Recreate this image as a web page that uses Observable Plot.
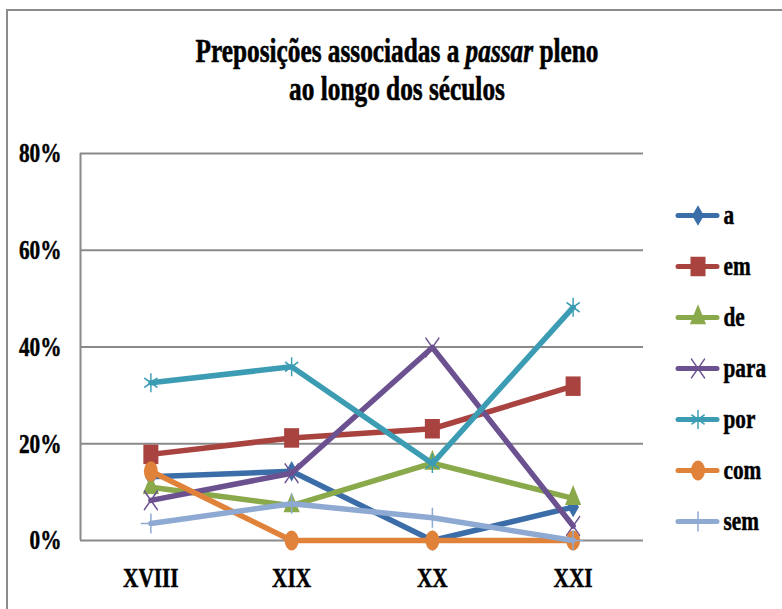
<!DOCTYPE html>
<html><head><meta charset="utf-8">
<script src="https://cdn.jsdelivr.net/npm/d3@7"></script>
<script src="https://cdn.jsdelivr.net/npm/@observablehq/plot@0.6"></script>
<style>
html,body{margin:0;padding:0;background:#fff;}
body{width:782px;height:609px;overflow:hidden;position:relative;font-family:"Liberation Serif","Times New Roman",serif;}
#frame{position:absolute;left:6px;top:9px;width:1000px;height:1000px;border:2px solid #8c8c8c;}
#title{position:absolute;left:0;top:32px;width:794px;text-align:center;font-weight:bold;font-size:34px;line-height:38.4px;white-space:nowrap;color:#000;-webkit-text-stroke:0.6px #000;}
#title div{transform-origin:50% 50%;}
#chart,#legend{position:absolute;top:0;}
#chart{left:0;}
#legend{left:640px;}
svg text{stroke:#000;stroke-width:0.5px;}
</style></head><body>
<div id="frame"></div>
<div id="chart"></div>
<div id="legend"></div>
<div id="title"><div id="t1"><span id="t1s">Preposições associadas a <i>passar</i> pleno</span></div><div id="t2"><span>ao longo dos séculos</span></div></div>
<script>
// ---- data ----
const centuries = ["XVIII", "XIX", "XX", "XXI"];
const series = ["a", "em", "de", "para", "por", "com", "sem"];
const valA    = [13.2, 14.3, 0, 6.9];
const valEm   = [17.8, 21.2, 23.1, 31.9];
const valDe   = [11.0, 7.2, 16.0, 8.7];
const valPara = [8.3, 13.9, 39.9, 3.0];
const valPor  = [32.6, 35.9, 15.9, 48.2];
const valCom  = [14.3, 0, 0, 0];
const valSem  = [3.5, 7.6, 4.7, 0];
const yTicks = [0, 0.2, 0.4, 0.6, 0.8];

// ---- styles ----
const colors = ["#3b6ea8", "#a9433f", "#89a94b", "#6c5190", "#3c9cb4", "#e0823a", "#8eaad2"];
const ellipse = {draw(ctx, size) { const r = Math.sqrt(size / Math.PI); ctx.moveTo(r, 0); ctx.arc(0, 0, r, 0, 2 * Math.PI); ctx.closePath(); }};
const markers = [
  {symbol: "diamond", r: 6.2, sx: 1, filled: true},
  {symbol: "square", r: 11, sx: 0.77, filled: true},
  {symbol: "triangle", r: 8.6, sx: 0.7, filled: true},
  {symbol: "times", r: 9, sx: 0.7, filled: false, sw: 1.8},
  {symbol: "asterisk", r: 9, sx: 0.8, filled: false, sw: 1.8},
  {symbol: ellipse, r: 10, sx: 0.7, filled: true},
  {symbol: "plus", r: 6.5, sx: 1, filled: false, sw: 1.5}
];
const textScale = 0.76;

const allVals = [valA, valEm, valDe, valPara, valPor, valCom, valSem];
const rows = series.flatMap((s, k) => allVals[k].map((v, i) => ({s, k, i, v: v / 100})));
const xDom = [-0.5, centuries.length - 0.5];

// title scaling
const t1w = document.getElementById("t1s").getBoundingClientRect().width;
const ts = 403 / t1w;
document.getElementById("t1").style.transform = `scaleX(${ts})`;
document.getElementById("t2").style.transform = `scaleX(${ts})`;

const seriesMarks = series.flatMap((s, k) => {
  const d = rows.filter(r => r.k === k);
  const m = markers[k];
  return [
    Plot.line(d, {x: "i", y: "v", stroke: colors[k], strokeWidth: 5.5, strokeLinejoin: "round", strokeLinecap: "round"}),
    Plot.dot(d, {x: "i", y: "v", symbol: () => m.symbol, r: m.r,
      fill: m.filled ? colors[k] : "none", stroke: m.filled ? "none" : colors[k], strokeWidth: m.sw || 1})
  ];
});

const chart = Plot.plot({
  width: 782, height: 609,
  marginLeft: 80, marginRight: 139, marginTop: 153, marginBottom: 69,
  style: {fontFamily: "Liberation Serif", fontSize: "28px", fontWeight: "bold", color: "#000", background: "transparent", overflow: "visible"},
  x: {type: "linear", domain: xDom, ticks: 8, tickFormat: i => Number.isInteger(i) && i >= 0 ? centuries[i] : "", tickSize: 0, tickPadding: 27, label: null},
  y: {domain: [0, 0.8], ticks: 4, tickFormat: d3.format(".0%"), tickSize: 0, tickPadding: 19, label: null},
  symbol: {type: "identity"},
  marks: [
    Plot.ruleY(yTicks, {y: d => d, x1: xDom[0], x2: xDom[1], stroke: "#8a8a8a", strokeWidth: 2}),
    Plot.ruleX([xDom[0]], {x: d => d, y1: 0, y2: 0.8, stroke: "#8a8a8a", strokeWidth: 2}),
    ...seriesMarks
  ]
});
document.getElementById("chart").appendChild(chart);

// legend
const legendMarks = series.flatMap((s, k) => {
  const m = markers[k];
  return [
    Plot.ruleY([s], {y: d => d, x1: 0, x2: 1, stroke: colors[k], strokeWidth: 5, strokeLinecap: "round"}),
    Plot.dot([s], {y: d => d, x: 0.5, symbol: () => m.symbol, r: m.r,
      fill: m.filled ? colors[k] : "none", stroke: m.filled ? "none" : colors[k], strokeWidth: m.sw || 1}),
    Plot.text([s], {y: d => d, x: 1, text: d => d, dx: 6, textAnchor: "start", fill: "#000"})
  ];
});
const legend = Plot.plot({
  width: 142, height: 609,
  style: {fontFamily: "Liberation Serif", fontSize: "28px", fontWeight: "bold", color: "#000", background: "transparent", overflow: "visible"},
  x: {domain: [0, 1], range: [38, 717 - 640], axis: null},
  y: {type: "point", domain: series, range: [214, 522], padding: 0, axis: null},
  symbol: {type: "identity"},
  marks: legendMarks
});
document.getElementById("legend").appendChild(legend);

// horizontal compression of texts and markers (as in the reference)
function squeeze(svg) {
  svg.querySelectorAll("text").forEach(t => {
    t.setAttribute("transform", (t.getAttribute("transform") || "") + ` scale(${textScale},1)`);
  });
  const dotGroups = svg.querySelectorAll('g[aria-label="dot"]');
  dotGroups.forEach((g, k) => {
    const m = markers[k];
    g.querySelectorAll("path").forEach(p => {
      p.setAttribute("transform", (p.getAttribute("transform") || "") + ` scale(${m.sx},1)`);
    });
  });
}
squeeze(chart);
squeeze(legend);
</script>
</body></html>
